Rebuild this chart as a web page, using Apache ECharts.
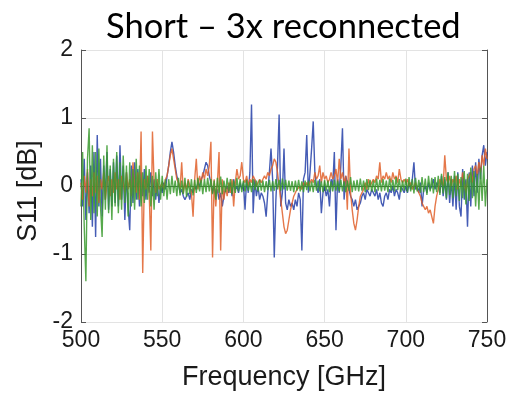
<!DOCTYPE html>
<html>
<head>
<meta charset="utf-8">
<script src="https://cdn.jsdelivr.net/npm/echarts@6/dist/echarts.min.js"></script>
<style>
html,body{margin:0;padding:0;background:#fff;}
#chart{width:510px;height:396px;}
</style>
</head>
<body>
<div id="chart"></div>
<script>
// frequency grid: 500..750 GHz, 1 GHz steps
var freqStart = 500, freqStep = 1;
var xTicks = [500, 550, 600, 650, 700, 750];
var yTicks = [-2, -1, 0, 1, 2];

// S11 [dB], measurement 1 (blue)
var s11Blue = [
 0.1,-0.3,0.4,-0.5,0.2,-0.4,0.3,-0.6,0.5,-0.75,
 0.75,-0.3,0.4,-0.45,0.3,-0.2,0.5,-0.35,0.25,-0.3,
 0.35,-0.25,0.45,-0.3,0.6,-0.2,0.3,-0.5,0.2,-0.3,
 -0.65,0.3,-0.25,0.35,-0.2,0.25,-0.3,0.2,-0.15,0.25,
 -0.2,0.15,-0.1,0.2,-0.15,0.1,-0.2,0.05,-0.25,0.0,
 -0.1,0.05,-0.05,0.15,0.3,0.5,0.65,0.5,0.3,0.15,
 0.05,-0.1,-0.05,-0.15,-0.2,-0.15,-0.1,-0.2,-0.05,-0.1,
 0.0,-0.05,0.05,0.0,0.1,0.15,0.25,0.35,0.3,0.15,
 0.05,-0.1,0.0,-0.15,-0.05,-0.2,-0.1,-0.3,-0.15,-0.05,
 0.0,-0.1,0.05,-0.15,0.1,-0.05,0.0,-0.1,0.05,-0.05,
 0.05,-0.35,0.1,-0.1,0.2,1.2,-0.4,0.1,-0.15,0.0,
 -0.2,-0.1,-0.15,-0.25,-0.45,-0.1,0.2,0.55,0.1,-1.05,
 -0.2,0.3,1.05,-0.3,-0.1,0.55,-0.25,-0.35,-0.2,-0.3,
 -0.25,-0.35,-0.2,-0.3,-0.1,-0.2,-0.95,0.1,0.2,0.75,
 -0.1,0.2,0.55,0.95,0.2,0.0,-0.1,0.1,-0.4,-0.1,
 0.0,-0.15,-0.05,-0.3,0.1,0.0,0.5,-0.65,0.1,-0.1,
 0.3,0.85,-0.2,0.15,0.05,-0.05,-0.15,-0.2,-0.3,-0.2,
 -0.35,-0.3,-0.25,-0.15,-0.1,-0.2,-0.05,-0.1,-0.15,-0.05,
 -0.1,-0.15,-0.05,-0.2,-0.1,-0.25,-0.3,-0.15,-0.1,-0.2,
 -0.05,-0.1,0.0,-0.15,-0.05,-0.1,-0.2,0.0,-0.05,-0.1,
 0.0,-0.1,0.05,-0.05,0.1,0.35,-0.05,0.0,-0.1,0.05,
 -0.3,-0.05,0.0,-0.1,0.05,-0.05,0.0,0.1,-0.05,0.05,
 0.0,-0.1,0.15,-0.15,0.1,-0.2,0.2,-0.25,0.1,-0.3,
 0.15,-0.35,0.2,-0.3,-0.45,0.25,-0.2,0.1,-0.6,0.2,
 -0.3,0.3,-0.15,0.35,-0.1,0.4,0.1,0.45,0.6,0.3,
 0.5
];

// measurement 2 (orange)
var s11Orange = [
 0.05,-0.2,0.15,-0.1,0.25,-0.3,0.1,-0.15,0.2,-0.1,
 0.15,-0.25,0.1,-0.05,0.2,-0.2,0.05,0.15,-0.15,0.1,
 -0.1,0.2,-0.05,0.1,-0.2,0.15,0.05,-0.1,0.2,-0.05,
 0.1,-0.15,0.35,0.0,-0.1,0.2,-0.2,0.8,-1.28,0.1,
 -0.05,0.15,-0.1,-0.95,0.8,0.05,-0.1,0.1,-0.05,0.0,
 0.05,-0.05,0.1,0.15,0.3,0.45,0.55,0.4,0.25,0.1,
 0.05,-0.05,0.35,-0.1,0.05,-0.05,0.1,0.0,-0.1,-0.45,
 0.1,0.4,-0.05,0.15,0.05,0.2,0.1,0.25,0.15,0.3,
 0.65,-1.05,0.1,-0.3,0.05,0.5,-0.95,0.1,-0.2,0.0,
 -0.15,0.05,-0.1,0.1,-0.3,0.05,0.25,0.1,0.15,0.35,
 0.1,0.05,0.15,0.0,0.1,0.05,0.15,0.1,0.0,0.05,
 0.1,0.05,0.1,0.15,0.1,0.2,0.15,0.25,0.3,0.4,
 0.35,0.2,0.0,-0.2,-0.4,-0.6,-0.7,-0.65,-0.5,-0.35,
 -0.25,-0.15,-0.1,-0.05,-0.05,0.0,-0.05,0.05,0.0,0.05,
 0.0,0.05,0.1,0.05,0.2,0.1,0.15,0.3,0.05,0.2,
 0.1,0.15,0.05,0.1,0.2,0.1,0.15,0.25,0.05,0.4,
 0.1,0.2,0.05,0.15,-0.35,0.55,-0.1,-0.35,-0.55,-0.65,
 -0.5,-0.3,-0.15,-0.1,-0.05,0.05,-0.05,0.1,0.0,0.05,
 0.1,0.05,0.15,0.1,0.35,0.05,0.15,0.1,0.2,0.1,
 0.15,0.05,0.2,0.1,0.15,0.05,0.25,0.1,0.05,0.1,
 0.05,0.1,0.0,0.05,-0.05,0.0,0.05,-0.05,-0.1,-0.15,
 -0.25,-0.3,-0.35,-0.3,-0.4,-0.35,-0.45,-0.55,-0.3,-0.15,
 -0.05,0.1,0.05,0.0,0.45,0.1,0.05,0.15,0.0,0.1,
 0.05,0.15,-0.05,0.1,0.0,0.2,0.05,-0.1,0.1,0.15,
 0.2,0.05,0.25,0.3,0.15,0.35,0.2,0.45,0.3,0.55,
 0.4
];

// measurement 3 (green)
var s11Green = [
 -0.3,0.5,-0.6,-1.4,0.4,0.85,-0.5,0.6,-0.4,0.5,
 -0.45,0.55,-0.3,-0.75,0.45,-0.35,0.6,-0.4,0.3,-0.5,
 0.4,-0.3,0.5,-0.4,0.35,-0.35,0.45,-0.25,0.3,-0.45,
 0.35,-0.3,0.25,-0.35,0.4,-0.2,0.3,-0.3,0.2,-0.25,
 0.3,-0.2,0.25,-0.3,0.15,-0.35,0.2,-0.15,0.25,-0.2,
 0.15,-0.15,0.1,-0.2,0.1,-0.12,0.15,-0.1,0.08,-0.15,
 0.12,-0.14,0.08,-0.12,0.12,-0.16,0.08,-0.12,0.1,-0.14,
 0.09,-0.1,0.12,-0.08,0.09,-0.12,0.1,-0.09,0.12,-0.08,
 0.1,-0.12,0.08,-0.2,0.12,-0.1,0.14,-0.12,0.08,-0.09,
 0.12,-0.08,0.1,-0.12,0.08,-0.1,0.12,-0.08,0.1,-0.09,
 0.08,-0.08,0.09,-0.07,0.06,-0.09,0.1,-0.06,0.08,-0.08,
 0.09,-0.07,0.08,-0.09,0.07,-0.06,0.09,-0.08,0.07,-0.07,
 0.1,-0.05,0.09,-0.07,0.11,-0.05,0.09,-0.07,0.08,-0.07,
 0.07,-0.09,0.08,-0.07,0.09,-0.08,0.07,-0.09,0.08,-0.06,
 0.08,-0.08,0.07,-0.09,0.09,-0.07,0.08,-0.08,0.07,-0.09,
 0.09,-0.07,0.08,-0.09,0.07,-0.08,0.09,-0.07,0.08,-0.08,
 0.09,-0.08,0.07,-0.09,0.08,-0.07,0.13,-0.09,0.08,-0.07,
 0.09,-0.08,0.11,-0.07,0.08,-0.09,0.1,-0.06,0.09,-0.08,
 0.08,-0.09,0.11,-0.07,0.09,-0.08,0.1,-0.07,0.08,-0.09,
 0.11,-0.07,0.09,-0.08,0.13,-0.06,0.1,-0.09,0.08,-0.07,
 0.11,-0.09,0.13,-0.08,0.1,-0.11,0.12,-0.08,0.09,-0.1,
 0.13,-0.09,0.11,-0.13,0.15,-0.08,0.12,-0.11,0.13,-0.09,
 0.15,-0.13,0.18,-0.11,0.13,-0.18,0.2,-0.13,0.15,-0.18,
 0.22,-0.15,0.18,-0.22,0.13,-0.18,0.22,-0.27,0.18,-0.22,
 0.27,-0.18,0.22,-0.3,0.18,-0.35,0.27,-0.22,0.3,-0.3,
 0.1
];

//把数组配成 [频率, 值]
var pairs = function(vals){
	var out = [];
	for(var i = 0; i < vals.length; i++){
		out.push([freqStart + i * freqStep, vals[i]]);
	}
	return out;
};

var lineSeries = function(name, vals, color){
	return {
		name: name, type: 'line', data: pairs(vals),
		showSymbol: false, symbol: 'none',
		lineStyle: {color: color, width: 1.4, opacity: 0.85},
		xAxisIndex: 0, yAxisIndex: 0
	};
};

var frameColor = '#555555';
var font = 'Liberation Sans, Arial, sans-serif';

var chart = echarts.init(document.getElementById('chart'), null, {renderer: 'canvas'});
chart.setOption({
	animation: false,
	backgroundColor: '#ffffff',
	title: {
		text: 'Short \u2013 3x reconnected',
		left: 101, top: 4,
		textStyle: {fontFamily: 'Lato, sans-serif', fontWeight: 'normal', fontSize: 34.5, color: '#000'}
	},
	grid: {left: 81, right: 23, top: 50, bottom: 74, outerBoundsMode: 'none', containLabel: false},
	xAxis: [{
		type: 'value', position: 'bottom',
		min: xTicks[0], max: xTicks[xTicks.length - 1], interval: 50,
		name: 'Frequency [GHz]', nameLocation: 'middle', nameGap: 42,
		nameTextStyle: {fontFamily: font, fontSize: 27, color: '#1a1a1a'},
		axisLine: {show: true, lineStyle: {color: frameColor, width: 1}},
		axisTick: {show: true, inside: true, length: 5, lineStyle: {color: frameColor}},
		axisLabel: {fontFamily: font, fontSize: 23, color: '#1a1a1a', margin: 7},
		splitLine: {show: true, lineStyle: {color: '#e3e3e3', width: 1}}
	}, {
		type: 'value', position: 'top',
		min: xTicks[0], max: xTicks[xTicks.length - 1], interval: 50,
		axisLine: {show: true, lineStyle: {color: frameColor, width: 1}},
		axisTick: {show: true, inside: true, length: 5, lineStyle: {color: frameColor}},
		axisLabel: {show: false}, splitLine: {show: false}
	}],
	yAxis: [{
		type: 'value', position: 'left',
		min: yTicks[0], max: yTicks[yTicks.length - 1], interval: 1,
		name: 'S11 [dB]', nameLocation: 'middle', nameGap: 30,
		nameTextStyle: {fontFamily: font, fontSize: 27, color: '#1a1a1a', padding: [0, 10, 0, 0]},
		axisLine: {show: true, lineStyle: {color: frameColor, width: 1}},
		axisTick: {show: true, inside: true, length: 5, lineStyle: {color: frameColor}},
		axisLabel: {fontFamily: font, fontSize: 23, color: '#1a1a1a', margin: 8},
		splitLine: {show: true, lineStyle: {color: '#e3e3e3', width: 1}}
	}, {
		type: 'value', position: 'right',
		min: yTicks[0], max: yTicks[yTicks.length - 1], interval: 1,
		axisLine: {show: true, lineStyle: {color: frameColor, width: 1}},
		axisTick: {show: true, inside: true, length: 5, lineStyle: {color: frameColor}},
		axisLabel: {show: false}, splitLine: {show: false}
	}],
	series: [
		lineSeries('S11 #1', s11Blue, '#2440a8'),
		lineSeries('S11 #2', s11Orange, '#e0602a'),
		lineSeries('S11 #3', s11Green, '#3a9a2e')
	]
});
</script>
</body>
</html>
